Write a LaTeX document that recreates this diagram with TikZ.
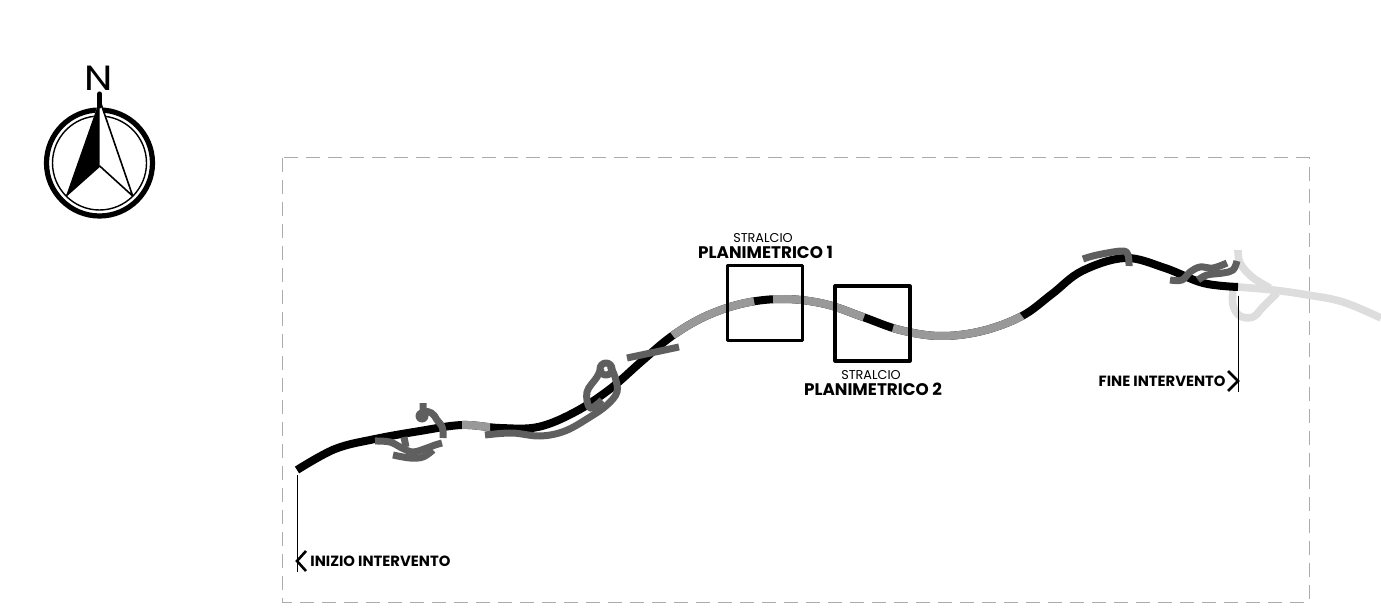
\documentclass[tikz,border=0pt]{standalone}
\usepackage{fontspec}
\newfontfamily\regf{Poppins}
\newfontfamily\widef[FakeStretch=1.15]{Poppins}
\newfontfamily\bldf{Poppins Bold}
\def\roadpath{plot[smooth,tension=0.6] coordinates {(297,470) (335,449) (375,439) (420,431) (462,425) (500,428) (538,427) (575,412) (610,389) (642,361) (672,336) (706,316) (745,303) (785,299) (825,304) (863,317) (900,330) (940,336) (982,331) (1022,316) (1052,294) (1082,271) (1125,258) (1165,268) (1203,283) (1238,287)}}
\newcommand{\greyseg}[8]{\begin{scope}\clip (#1+#3,#2+#4) -- (#1-#3,#2-#4) -- (#5-#7,#6-#8) -- (#5+#7,#6+#8) -- cycle;\draw[road,roadgrey] \roadpath;\end{scope}}
\definecolor{roadgrey}{HTML}{999999}
\definecolor{ramp}{HTML}{5F5F5F}
\definecolor{oldroad}{HTML}{DDDDDD}
\definecolor{framegrey}{HTML}{ABABAB}
\tikzset{
 x=0.5pt,y=-0.5pt,
 road/.style={line width=4pt,line cap=butt,line join=round},
 rampline/.style={draw=ramp,line width=3.5pt,line cap=butt,line join=round},
 oldline/.style={draw=oldroad,line width=3.8pt,line join=round},
 frameline/.style={draw=framegrey,line width=0.5pt,dash pattern=on 7pt off 4pt},
 sqbox/.style={draw=black,line width=1.6pt,line join=round},
 leader/.style={draw=black,line width=0.5pt},
 chev/.style={draw=black,line width=1.3pt,line join=miter},
 thinlbl/.style={inner sep=0pt,font=\regf\fontsize{6.4}{8}\selectfont},
 boldlbl/.style={inner sep=0pt,font=\bldf\fontsize{8.4}{9}\selectfont},
 smalllbl/.style={inner sep=0pt,font=\bldf\fontsize{7.4}{8}\selectfont},
}
\begin{document}
\begin{tikzpicture}
\useasboundingbox (0,0) rectangle (1381,609);
% old road
\draw[oldline] plot[smooth,tension=0.6] coordinates {(1238,287) (1273,290) (1308,295) (1343,302) (1381,318)};
\draw[oldline] plot[smooth,tension=0.6] coordinates {(1238,250) (1240,263) (1252,277) (1270,288)};
\draw[oldline] plot[smooth,tension=0.6] coordinates {(1277,293) (1263,307) (1253,317) (1240,316) (1233,305) (1233,287)};
% frame
\draw[frameline] (282,158) rectangle (1309,602);
% road
\draw[road,black] \roadpath;
\greyseg{462}{425}{0}{40}{490}{427}{0}{40}
\greyseg{673}{336}{24}{32}{754}{301}{8}{40}
\greyseg{773}{299}{0}{40}{864}{317}{-14}{38}
\greyseg{893}{328}{-10}{38}{1022}{316}{24}{32}
% ramps west
\draw[rampline] (423,403) -- (423,412) .. controls (430,410) and (434,414) .. (437,420) .. controls (440,424) and (444,425) .. (443,438);
\fill[ramp] (422,416) circle[radius=6.5];
\draw[rampline] plot[smooth,tension=0.6] coordinates {(375,441) (390,442) (402,448) (413,452) (427,448) (435,445) (442,443)};
\draw[rampline] plot[smooth,tension=0.6] coordinates {(393,455) (410,458) (423,457) (433,450)};
\draw[rampline] (404,437) -- (406,447);
% ramps middle
\draw[rampline] plot[smooth,tension=0.6] coordinates {(485,435) (512,433) (540,436) (565,431) (590,417) (607,405) (617,392) (615,377) (610,366)};
\draw[rampline] (606,369) circle[radius=6];
\draw[rampline] plot[smooth,tension=0.6] coordinates {(601,368) (597,377) (587,392) (590,408) (602,400)};
\draw[rampline] (627,358) -- (679,347);
% ramps east
\draw[rampline] plot[smooth,tension=0.6] coordinates {(1083,259) (1097,255) (1122,251) (1128,255) (1129,266)};
\draw[rampline] plot[smooth,tension=0.6] coordinates {(1170,280) (1182,280) (1190,272) (1200,267) (1213,268) (1227,263)};
\draw[rampline] plot[smooth,tension=0.6] coordinates {(1198,280) (1207,275) (1223,273) (1233,270) (1237,261)};
% plan boxes
\node[sqbox,minimum width=37.5pt,minimum height=37.5pt,inner sep=0pt] (boxa) at (765,303) {};
\node[sqbox,minimum width=37.5pt,minimum height=37.5pt,inner sep=0pt] (boxb) at (872.5,323.5) {};
\node[thinlbl] (la1) at (763,238) {STRALCIO};
\node[boldlbl] (la2) at (765.5,252) {PLANIMETRICO 1};
\node[thinlbl] (lb1) at (871,375) {STRALCIO};
\node[boldlbl] (lb2) at (873,389) {PLANIMETRICO 2};
% ends
\coordinate (sa) at (297,475); \coordinate (sb) at (297,572);
\coordinate (fa) at (1238,296); \coordinate (fb) at (1238,392);
\draw[leader] (sa) -- (sb);
\draw[leader] (fa) -- (fb);
\draw[chev] (306,551) -- (297,561) -- (306,571);
\draw[chev] (1228,371) -- (1238,381) -- (1228,391);
\node[smalllbl,anchor=west] (ini) at (310,561) {INIZIO INTERVENTO};
\node[smalllbl,anchor=east] (fin) at (1226,381) {FINE INTERVENTO};
% north arrow
\draw[black,line width=2.6pt] (99.5,163) circle[radius=53];
\draw[black,line width=0.7pt] (99.5,163) circle[radius=47];
\fill[white] (99.7,100) -- (66,196) -- (99.7,166) -- (132.7,196) -- cycle;
\fill[black] (99.7,100) -- (66,196) -- (99.7,166) -- cycle;
\draw[black,line width=0.8pt,line join=round] (99.7,100) -- (132.7,196) -- (99.7,166) -- (66,196);
\draw[black,line width=2.6pt,line cap=round] (99.7,94) -- (99.7,106);
\node[inner sep=0pt,font=\widef\fontsize{17.5}{18}\selectfont] (north) at (99,78) {N};
\end{tikzpicture}
\end{document}
